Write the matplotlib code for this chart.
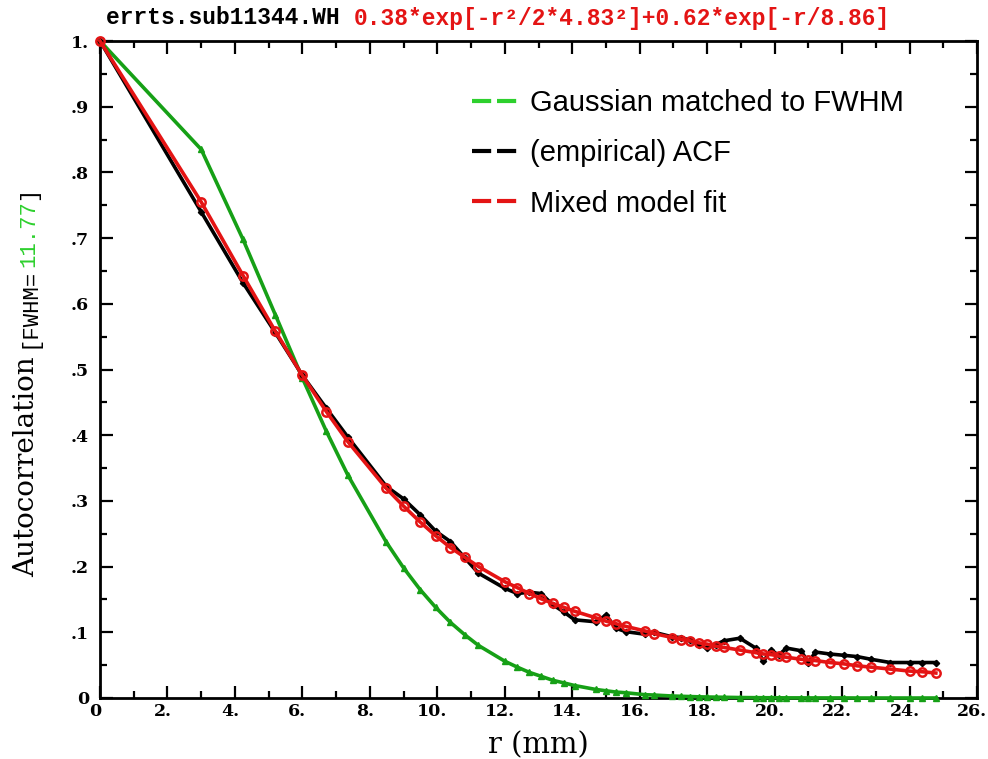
import matplotlib
matplotlib.use("Agg")
import matplotlib.pyplot as plt
from matplotlib.lines import Line2D
from matplotlib.ticker import MultipleLocator, FixedLocator, FixedFormatter
from matplotlib.transforms import ScaledTranslation

# radial distance (mm)
r_mm = [0, 3.0, 4.24, 5.2, 6.0, 6.71, 7.35, 8.49, 9.0, 9.49, 9.95, 10.39, 10.82, 11.22,
        12.0, 12.37, 12.73, 13.08, 13.42, 13.75, 14.07, 14.7, 15.0, 15.3, 15.59, 16.16,
        16.43, 16.97, 17.23, 17.49, 17.75, 18.0, 18.25, 18.49, 18.97, 19.44, 19.67, 19.9,
        20.12, 20.35, 20.78, 21.0, 21.21, 21.63, 22.05, 22.45, 22.85, 23.43, 24.0, 24.37,
        24.78]

gauss_fwhm = [1.0, 0.835, 0.698, 0.583, 0.487, 0.406, 0.339, 0.237, 0.198, 0.165, 0.138,
              0.115, 0.096, 0.080, 0.056, 0.047, 0.039, 0.033, 0.027, 0.023, 0.019, 0.013,
              0.011, 0.009, 0.008, 0.005, 0.0045, 0.003, 0.0026, 0.0022, 0.0018, 0.0015,
              0.0013, 0.0011, 0.0007, 0.0005, 0.0004, 0.0004, 0.0003, 0.0002, 0.0002,
              0.0001, 0.0001, 0.0001, 0.0001, 0, 0, 0, 0, 0, 0]

acf_emp = [1.0, 0.740, 0.632, 0.556, 0.491, 0.441, 0.397, 0.322, 0.303, 0.279, 0.254,
           0.238, 0.213, 0.190, 0.167, 0.159, 0.161, 0.159, 0.142, 0.131, 0.119, 0.116,
           0.126, 0.106, 0.101, 0.097, 0.100, 0.093, 0.092, 0.088, 0.081, 0.076, 0.081,
           0.087, 0.091, 0.076, 0.056, 0.073, 0.065, 0.076, 0.072, 0.054, 0.070, 0.067,
           0.065, 0.063, 0.059, 0.054, 0.054, 0.054, 0.054]

mixed_fit = [1.0, 0.755, 0.643, 0.558, 0.491, 0.436, 0.390, 0.319, 0.292, 0.268, 0.247,
             0.229, 0.214, 0.200, 0.177, 0.168, 0.159, 0.151, 0.144, 0.138, 0.132, 0.122,
             0.117, 0.113, 0.109, 0.102, 0.098, 0.092, 0.089, 0.087, 0.084, 0.082, 0.079,
             0.077, 0.073, 0.069, 0.067, 0.066, 0.064, 0.062, 0.059, 0.058, 0.057, 0.054,
             0.052, 0.049, 0.047, 0.044, 0.041, 0.040, 0.038]

dataset_name = "errts.sub11344.WH "
fit_formula = "0.38*exp[-r²/2*4.83²]+0.62*exp[-r/8.86]"
fwhm_value = "11.77"
legend_labels = ["Gaussian matched to FWHM", "(empirical) ACF", "Mixed model fit"]

xtick_vals = list(range(0, 27, 2))
xtick_lbls = ["0"] + ["%d." % v for v in xtick_vals[1:]]
ytick_vals = [i / 10 for i in range(11)]
ytick_lbls = ["0", ".1", ".2", ".3", ".4", ".5", ".6", ".7", ".8", ".9", "1."]

GREEN = "#16a016"
LGREEN = "#2ed02e"
RED = "#e41414"

plt.rcParams['font.family'] = ['DejaVu Serif']

W, H = 988, 759
fig = plt.figure(figsize=(W / 100, H / 100), dpi=100)
ax = fig.add_axes([100 / W, 1 - 698 / H, (977 - 100) / W, (698 - 41) / H])

ax.plot(r_mm, gauss_fwhm, color=GREEN, lw=2.6, marker='^', ms=4, zorder=3, clip_on=False)
ax.plot(r_mm, acf_emp, color='black', lw=2.6, marker='D', ms=3.2, zorder=4, clip_on=False)
ax.plot(r_mm, mixed_fit, color=RED, lw=2.6, marker='o', ms=6, mfc='none', mew=1.8,
        zorder=5, clip_on=False)

ax.set_xlim(0, 26)
ax.set_ylim(0, 1)
ax.xaxis.set_major_locator(FixedLocator(xtick_vals))
ax.xaxis.set_major_formatter(FixedFormatter(xtick_lbls))
ax.yaxis.set_major_locator(FixedLocator(ytick_vals))
ax.yaxis.set_major_formatter(FixedFormatter(ytick_lbls))
ax.xaxis.set_minor_locator(MultipleLocator(1))
ax.yaxis.set_minor_locator(MultipleLocator(0.05))
ax.tick_params(which='both', direction='in', top=True, right=True, width=1.6,
               labelsize=12.5)
ax.tick_params(which='major', length=9)
ax.tick_params(which='minor', length=5)
ax.tick_params(axis='x', pad=3.5)
ax.tick_params(axis='y', pad=8)
for sp in ax.spines.values():
    sp.set_linewidth(2)

ax.set_xlabel("r (mm)", fontsize=21, labelpad=8)

handles = [Line2D([], [], color=c, lw=3, dashes=(4.6, 1.4)) for c in [LGREEN, 'black', RED]]
ax.legend(handles, legend_labels, loc='upper left', bbox_to_anchor=(0.424, 0.9265),
          frameon=False, handlelength=1.55, handletextpad=0.45, labelspacing=0.76,
          borderaxespad=0, borderpad=0, prop={'family': 'Liberation Sans', 'size': 21})

fig.canvas.draw()
rend = fig.canvas.get_renderer()

# x tick labels sit a bit left of their ticks
shift = ScaledTranslation(-5 / 100, 0, fig.dpi_scale_trans)
for lab in ax.get_xticklabels():
    lab.set_transform(lab.get_transform() + shift)
for lab in ax.get_xticklabels() + ax.get_yticklabels():
    lab.set_fontweight('bold')

# title: dataset name in black, fit formula in red
t = fig.text(106 / W, 1 - 18 / H, dataset_name, family='Liberation Mono', weight='bold',
             size=16.5, va='center')
bb = t.get_window_extent(rend)
fig.text(bb.x1 / W, 1 - 18 / H, fit_formula, family='Liberation Mono', weight='bold',
         size=16.5, va='center', color=RED)

# y label built from pieces, FWHM value in green
ypos = 1 - 577 / H
for txt, fam, sz, col in [("Autocorrelation ", 'DejaVu Serif', 20, 'black'),
                          ("[FWHM=", 'Liberation Mono', 16, 'black'),
                          (fwhm_value, 'Liberation Mono', 16, LGREEN),
                          ("]", 'Liberation Mono', 16, 'black')]:
    tt = fig.text(34 / W, ypos, txt, family=fam, size=sz, color=col, rotation=90,
                  rotation_mode='anchor', ha='left', va='baseline')
    ypos = tt.get_window_extent(rend).y1 / H

fig.savefig("out.png", dpi=100)
